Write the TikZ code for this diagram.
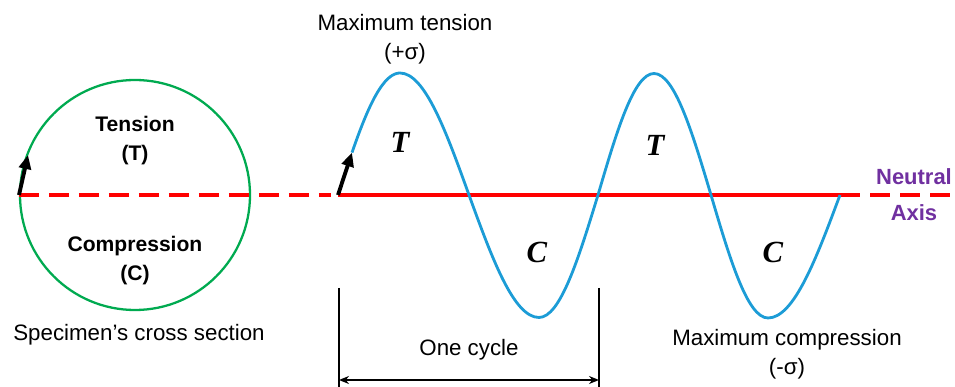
\documentclass[tikz,border=0pt]{standalone}
\usepackage{fontspec}
\setmainfont{Liberation Sans}
\newfontfamily\letterfont{Liberation Serif}
\usetikzlibrary{arrows.meta}
\definecolor{axisred}{RGB}{255,0,0}
\definecolor{wavebl}{RGB}{28,156,214}
\definecolor{ringgr}{RGB}{0,170,80}
\definecolor{axispu}{RGB}{112,48,160}
\tikzset{
  lbl/.style={align=center,font=\fontsize{12.7}{16.5}\selectfont},
  blbl/.style={lbl,font=\fontsize{12}{16.5}\selectfont\bfseries},
  zone/.style={font=\fontsize{17.5}{20}\selectfont\letterfont\bfseries\itshape},
  turn/.style={line width=2.2pt,-{Triangle[length=2.8mm,width=2.4mm]}},
  axisline/.style={axisred,line width=1.8pt}
}
\begin{document}
\begin{tikzpicture}
\useasboundingbox (0,-3.84) rectangle (19.1,3.9);
% cross section
\draw[ringgr,line width=1.3pt] (2.7,0) circle (2.3);
\draw[axisline,dash pattern=on 0.4cm off 0.2cm] (0.38,0) -- (6.62,0);
\coordinate (c0) at (0.38,0);
\coordinate (c1) at (0.56,0.8);
\draw[turn] (c0) -- (c1);
\node[blbl] (tens) at (2.7,1.09) {Tension\\(T)};
\node[blbl] (comp) at (2.7,-1.32) {Compression\\(C)};
\node[lbl] (sect) at (2.78,-2.8) {Specimen’s cross section};
% stress wave
\draw[axisline] (6.76,0) -- (16.8,0);
\draw[axisline,dash pattern=on 0.4cm off 0.2cm] (16.8,0) -- (19.1,0);
\coordinate (w0) at (6.76,0);
\coordinate (w1) at (7.04,0.85);
\draw[turn] (w0) -- (w1);
\draw[wavebl,line width=1.6pt] plot[domain=7.04:8,samples=20,smooth] (\x,{2.44*sin(90*(\x-6.76)/1.24)})
  cos (9.38,0) sin (10.78,-2.45) cos (11.96,0) sin (13.08,2.43) cos (14.22,0) sin (15.36,-2.46) cos (16.8,0);
\node[zone] (t1) at (8.0,1.06) {T};
\node[zone] (t2) at (13.1,1.0) {T};
\node[zone] (c1l) at (10.74,-1.14) {C};
\node[zone] (c2l) at (15.46,-1.14) {C};
\node[lbl] (maxt) at (8.1,3.12) {Maximum tension\\(+σ)};
\node[lbl] (maxc) at (15.74,-3.18) {Maximum compression\\(-σ)};
\node[blbl,text=axispu,font=\fontsize{12.5}{20.5}\selectfont\bfseries] (neut) at (18.28,0) {Neutral\\Axis};
% one cycle
\coordinate (p0) at (6.78,-1.86);
\coordinate (p1) at (11.98,-1.86);
\draw[line width=1.2pt] (p0) -- ++(0,-2);
\draw[line width=1.2pt] (p1) -- ++(0,-2);
\coordinate (d0) at (6.78,-3.7);
\coordinate (d1) at (11.98,-3.7);
\draw[line width=1pt,{Stealth[length=2mm,width=1.6mm]}-{Stealth[length=2mm,width=1.6mm]}] (d0) -- (d1);
\node[lbl] (cyc) at (9.38,-3.1) {One cycle};
\end{tikzpicture}
\end{document}
